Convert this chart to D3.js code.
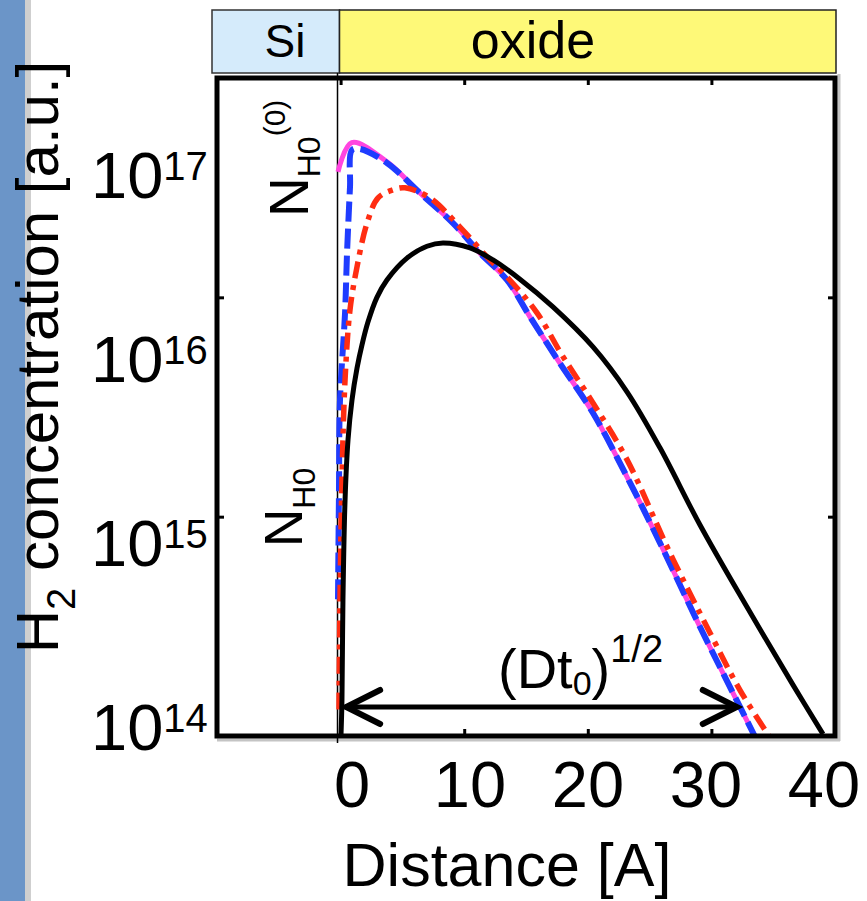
<!DOCTYPE html>
<html>
<head>
<meta charset="utf-8">
<script src="https://cdn.jsdelivr.net/npm/d3@7"></script>
<style>
  html, body { margin: 0; padding: 0; background: #fff; }
  svg { display: block; font-family: "Liberation Sans", Arial, sans-serif; }
</style>
</head>
<body>
<svg id="chart" width="867" height="901"></svg>
<script>
// H2 concentration profiles across the Si / oxide interface, [distance in A, concentration in a.u.]
const magentaSolid = [
  [-0.21, 3.73e16], [0.90, 5.07e16], [3.75, 4.15e16], [6.42, 2.99e16], [9.09, 2.18e16],
  [11.28, 1.59e16], [13.46, 1.20e16], [15.32, 8.15e15], [17.75, 5.0e15], [20.42, 2.97e15],
  [23.17, 1.52e15], [25.84, 7.6e14], [29.08, 3.14e14], [31.75, 1.57e14], [33.5, 1.0e14]
];
const blueDashed = [
  [-0.21, 4.2e14], [-0.13, 1.33e15], [-0.05, 3.4e15], [0.36, 8.5e15], [0.52, 1.59e16],
  [0.76, 3.18e16], [0.92, 4.7e16], [1.57, 4.75e16], [3.75, 4.1e16], [6.42, 2.99e16],
  [9.09, 2.18e16], [11.28, 1.59e16], [13.46, 1.20e16], [15.32, 8.15e15], [17.75, 5.0e15],
  [20.42, 2.97e15], [23.17, 1.52e15], [25.84, 7.6e14], [29.08, 3.14e14], [31.75, 1.57e14],
  [33.5, 1.0e14]
];
const redDashDot = [
  [-0.13, 1.32e14], [-0.05, 4.17e14], [0.11, 1.47e15], [0.36, 4.2e15], [0.76, 8.77e15],
  [1.33, 1.38e16], [2.14, 2.18e16], [3.03, 2.84e16], [4.24, 3.09e16], [5.21, 3.16e16],
  [7.23, 2.84e16], [9.66, 2.09e16], [11.84, 1.53e16], [13.46, 1.24e16], [15.89, 8.5e15],
  [17.91, 5.46e15], [20.42, 3.3e15], [23.17, 1.82e15], [26.65, 6.83e14], [29.89, 2.95e14],
  [32.31, 1.62e14], [34.66, 1.0e14]
];
const blackSolid = [
  [0.03, 1.0e14], [0.11, 1.46e14], [0.19, 4.17e14], [0.36, 1.19e15], [0.60, 2.24e15],
  [0.92, 3.40e15], [1.33, 4.76e15], [1.73, 6.07e15], [2.22, 7.73e15], [2.94, 1.0e16],
  [3.75, 1.2e16], [5.37, 1.51e16], [6.99, 1.71e16], [8.28, 1.77e16], [10.47, 1.68e16],
  [12.33, 1.48e16], [14.51, 1.21e16], [17.18, 9.04e15], [20.42, 5.94e15], [23.17, 3.71e15],
  [25.84, 2.06e15], [29.08, 9.16e14], [32.88, 3.87e14], [36.6, 1.71e14], [39.03, 1.02e14]
];

// axis ticks and labels
const distanceTicks = [0, 10, 20, 30, 40];
const innerDistanceTicks = [0, 10, 20, 30];
const concentrationTicks = [1e15, 1e16];
const exponentLabels = [17, 16, 15, 14];
const interfacePosition = -0.25;
const arrowSpan = [0.45, 32.05];

const svg = d3.select("#chart");

// slide decoration at the left edge
svg.append("rect").attr("x", 0).attr("y", 0).attr("width", 25).attr("height", 901).attr("fill", "#6b95c8");
svg.append("rect").attr("x", 25).attr("y", 0).attr("width", 6).attr("height", 901).attr("fill", "#cfcfcf");

const plot = { left: 217, right: 835, top: 78, bottom: 736 };
const x = d3.scaleLinear().domain([-10, 40]).range([plot.left, plot.right]);
const y = d3.scaleLog().domain([1e14, 1e17]).range([plot.bottom, plot.top]);

// region bar above the plot
const bar = svg.append("g");
bar.append("rect").attr("x", 212).attr("y", 10).attr("width", x(interfacePosition) + 2 - 212).attr("height", 63)
  .attr("fill", "#d5ebfb").attr("stroke", "#333").attr("stroke-width", 1.5);
bar.append("rect").attr("x", x(interfacePosition) + 2).attr("y", 10).attr("width", 836 - x(interfacePosition) - 2).attr("height", 63)
  .attr("fill", "#fef978").attr("stroke", "#222").attr("stroke-width", 1.5);
bar.append("text").attr("x", 285).attr("y", 57).attr("text-anchor", "middle").attr("font-size", 46).text("Si");
bar.append("text").attr("x", 533).attr("y", 58).attr("text-anchor", "middle").attr("font-size", 52).text("oxide");

// shadow of the frame
svg.append("line").attr("x1", plot.right + 4).attr("x2", plot.right + 4).attr("y1", 74).attr("y2", plot.bottom + 5)
  .attr("stroke", "#c4c4c4").attr("stroke-width", 3);
svg.append("line").attr("x1", plot.left).attr("x2", plot.right + 5).attr("y1", plot.bottom + 4).attr("y2", plot.bottom + 4)
  .attr("stroke", "#c4c4c4").attr("stroke-width", 3);

// interface line
svg.append("line").attr("x1", x(interfacePosition)).attr("x2", x(interfacePosition))
  .attr("y1", 73).attr("y2", plot.bottom + 7).attr("stroke", "#000").attr("stroke-width", 1.5);

// curves
svg.append("clipPath").attr("id", "plotClip").append("rect")
  .attr("x", plot.left).attr("y", plot.top).attr("width", plot.right - plot.left).attr("height", plot.bottom - plot.top);
const line = d3.line().x(d => x(d[0])).y(d => y(d[1])).curve(d3.curveCatmullRom.alpha(0.5));
const curves = svg.append("g").attr("clip-path", "url(#plotClip)").attr("fill", "none");
curves.append("path").datum(magentaSolid).attr("d", line).attr("stroke", "#ff45e0").attr("stroke-width", 5);
curves.append("path").datum(blueDashed).attr("d", line).attr("stroke", "#1f3cff").attr("stroke-width", 6)
  .attr("stroke-dasharray", "20,7");
curves.append("path").datum(redDashDot).attr("d", line).attr("stroke", "#ff2d12").attr("stroke-width", 5.5)
  .attr("stroke-dasharray", "17,7,5,7");
curves.append("path").datum(blackSolid).attr("d", line).attr("stroke", "#000").attr("stroke-width", 5);

// inner ticks on all four sides
const tickStyle = g => { g.select(".domain").remove(); g.selectAll("line").attr("stroke", "#000").attr("stroke-width", 3); g.selectAll("text").remove(); };
svg.append("g").attr("transform", `translate(0,${plot.bottom})`)
  .call(d3.axisBottom(x).tickValues(innerDistanceTicks).tickSize(-7).tickFormat("")).call(tickStyle);
svg.append("g").attr("transform", `translate(0,${plot.top})`)
  .call(d3.axisTop(x).tickValues(innerDistanceTicks).tickSize(-7).tickFormat("")).call(tickStyle);
svg.append("g").attr("transform", `translate(${plot.left},0)`)
  .call(d3.axisLeft(y).tickValues(concentrationTicks).tickSize(-7).tickFormat("")).call(tickStyle);
svg.append("g").attr("transform", `translate(${plot.right},0)`)
  .call(d3.axisRight(y).tickValues(concentrationTicks).tickSize(-7).tickFormat("")).call(tickStyle);

// frame
svg.append("rect").attr("x", plot.left).attr("y", plot.top).attr("width", plot.right - plot.left)
  .attr("height", plot.bottom - plot.top).attr("fill", "none").attr("stroke", "#000").attr("stroke-width", 5);

// tick labels
const xLabelPos = d3.scaleLinear().domain([0, 40]).range([352, 824]);
svg.append("g").selectAll("text").data(distanceTicks).join("text")
  .attr("x", d => xLabelPos(d)).attr("y", 807).attr("text-anchor", "middle").attr("font-size", 65)
  .text(d => d);
const yLabelPos = d3.scaleLinear().domain([17, 14]).range([198, 750]);
const yl = svg.append("g").selectAll("text").data(exponentLabels).join("text")
  .attr("x", 91).attr("y", d => yLabelPos(d)).attr("font-size", 65);
yl.append("tspan").text("10");
yl.append("tspan").attr("font-size", 40).attr("dy", -18).text(d => d);

// axis titles
svg.append("text").attr("x", 507).attr("y", 886).attr("text-anchor", "middle").attr("font-size", 61).text("Distance [A]");
const yt = svg.append("text").attr("transform", "translate(58,357) rotate(-90)").attr("text-anchor", "middle").attr("font-size", 60);
yt.append("tspan").text("H");
yt.append("tspan").attr("font-size", 40).attr("dy", 17).text("2");
yt.append("tspan").attr("dy", -17).text(" concentration [a.u.]");

// surface concentration annotations
const n0 = svg.append("text").attr("transform", "translate(308,217) rotate(-90)").attr("font-size", 55);
n0.append("tspan").text("N");
n0.append("tspan").attr("font-size", 32).attr("dy", 12).text("H0");
n0.append("tspan").attr("font-size", 30).attr("dy", -35).text("(0)");
const n1 = svg.append("text").attr("transform", "translate(302,547) rotate(-90)").attr("font-size", 53);
n1.append("tspan").text("N");
n1.append("tspan").attr("font-size", 32).attr("dy", 13).text("H0");

// diffusion length arrow
const ay = 707;
const arrow = svg.append("g").attr("stroke", "#000").attr("fill", "none").attr("stroke-linecap", "round");
arrow.append("line").attr("x1", x(arrowSpan[0])).attr("x2", x(arrowSpan[1])).attr("y1", ay).attr("y2", ay).attr("stroke-width", 5);
arrow.append("path").attr("stroke-width", 6)
  .attr("d", `M${x(arrowSpan[0]) + 34},${ay - 17} L${x(arrowSpan[0])},${ay} L${x(arrowSpan[0]) + 34},${ay + 17}`);
arrow.append("path").attr("stroke-width", 6)
  .attr("d", `M${x(arrowSpan[1]) - 34},${ay - 17} L${x(arrowSpan[1])},${ay} L${x(arrowSpan[1]) - 34},${ay + 17}`);
const dt = svg.append("text").attr("x", 498).attr("y", 688).attr("font-size", 56);
dt.append("tspan").text("(Dt");
dt.append("tspan").attr("font-size", 34).attr("dy", 7).text("0");
dt.append("tspan").attr("dy", -7).text(")");
dt.append("tspan").attr("font-size", 38).attr("dy", -26).text("1/2");
</script>
</body>
</html>
